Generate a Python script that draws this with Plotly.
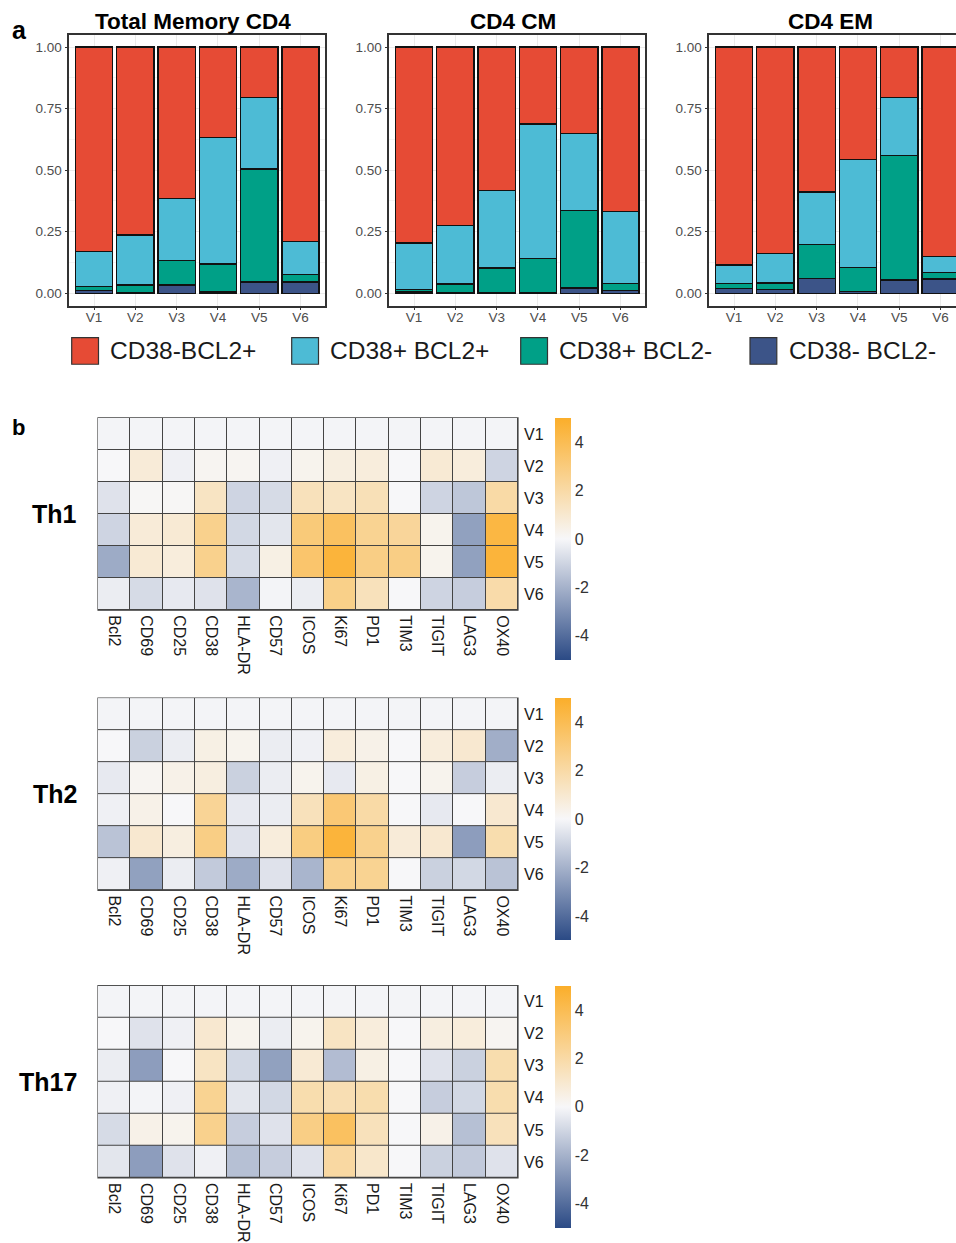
import plotly.graph_objects as go

W, H = 956, 1243
FONT = "Liberation Sans, Arial, sans-serif"


def fx(x):
    return x / W


def fy(y):
    return 1 - y / H


# ---------------- panel a: stacked proportions ----------------
visits = ["V1", "V2", "V3", "V4", "V5", "V6"]
subsets = ["Total Memory CD4", "CD4 CM", "CD4 EM"]
phenotypes = ["CD38- BCL2-", "CD38+ BCL2-", "CD38+ BCL2+", "CD38-BCL2+"]
pheno_colors = ["#3C5488", "#00A087", "#4DBBD5", "#E64B35"]
legend_order = ["CD38-BCL2+", "CD38+ BCL2+", "CD38+ BCL2-", "CD38- BCL2-"]

total_neg_neg = [0.012, 0.003, 0.033, 0.005, 0.046, 0.046]
total_pos_neg = [0.015, 0.031, 0.099, 0.113, 0.459, 0.031]
total_pos_pos = [0.143, 0.202, 0.252, 0.516, 0.290, 0.132]
total_neg_pos = [0.830, 0.764, 0.616, 0.366, 0.205, 0.791]

cm_neg_neg = [0.005, 0.003, 0.002, 0.003, 0.022, 0.011]
cm_pos_neg = [0.011, 0.034, 0.101, 0.137, 0.314, 0.028]
cm_pos_pos = [0.188, 0.238, 0.315, 0.548, 0.313, 0.293]
cm_neg_pos = [0.796, 0.725, 0.582, 0.312, 0.351, 0.668]

em_neg_neg = [0.019, 0.015, 0.061, 0.007, 0.054, 0.057]
em_pos_neg = [0.020, 0.027, 0.136, 0.097, 0.506, 0.027]
em_pos_pos = [0.076, 0.119, 0.215, 0.439, 0.235, 0.065]
em_neg_pos = [0.885, 0.839, 0.588, 0.457, 0.205, 0.851]

subset_series = [
    [total_neg_neg, total_pos_neg, total_pos_pos, total_neg_pos],
    [cm_neg_neg, cm_pos_neg, cm_pos_pos, cm_neg_pos],
    [em_neg_neg, em_pos_neg, em_pos_pos, em_neg_pos],
]

# ---------------- panel b: marker heatmaps ----------------
markers = ["Bcl2", "CD69", "CD25", "CD38", "HLA-DR", "CD57", "ICOS",
           "Ki67", "PD1", "TIM3", "TIGIT", "LAG3", "OX40"]
populations = ["Th1", "Th2", "Th17"]

th1_z = [
    [-0.1, -0.1, -0.1, -0.1, -0.1, -0.1, -0.1, -0.1, -0.1, -0.1, -0.1, -0.1, -0.1],
    [0.0, 0.8, -0.2, 0.2, 0.2, -0.2, 0.3, 0.6, 0.7, 0.0, 0.9, 0.7, -1.0],
    [-0.6, 0.1, 0.1, 1.3, -1.0, -0.8, 1.5, 1.3, 1.6, 0.0, -1.0, -1.4, 2.0],
    [-1.0, 0.8, 0.9, 2.6, -0.9, -0.5, 3.1, 3.7, 2.5, 2.3, 0.3, -2.5, 4.4],
    [-2.2, 0.9, 0.7, 2.6, -0.8, 0.5, 3.4, 4.6, 2.8, 2.8, 0.3, -2.5, 4.6],
    [-0.3, -0.8, -0.4, -0.6, -1.9, -0.1, -0.3, 2.7, 1.5, 0.0, -1.0, -1.2, 1.9],
]
th2_z = [
    [-0.1, -0.1, -0.1, -0.1, -0.1, -0.1, -0.1, -0.1, -0.1, -0.1, -0.1, -0.1, -0.1],
    [0.0, -1.1, -0.3, 0.5, 0.3, -0.3, -0.2, 0.7, 0.4, 0.0, 0.7, 1.0, -2.1],
    [-0.4, 0.2, 0.4, 0.6, -1.1, -0.3, 0.3, -0.4, 0.5, 0.0, 0.3, -1.2, -0.3],
    [-0.2, 0.4, 0.0, 2.4, -0.4, -0.3, 1.5, 3.2, 2.0, 0.0, -0.4, 0.0, 1.0],
    [-1.5, 1.0, 0.6, 2.8, -0.6, 0.7, 2.9, 4.6, 2.6, 0.8, 1.0, -2.6, 1.8],
    [-0.2, -2.5, -0.3, -1.3, -2.2, -0.6, -1.9, 2.6, 2.5, 0.0, -1.1, -0.9, -1.5],
]
th17_z = [
    [-0.1, -0.1, -0.1, -0.1, -0.1, -0.1, -0.1, -0.1, -0.1, -0.1, -0.1, -0.1, -0.1],
    [0.0, -0.6, -0.2, 1.0, 0.3, -0.3, 0.3, 1.3, 0.7, 0.0, 0.6, 0.7, 0.2],
    [-0.3, -2.6, 0.0, 1.3, -0.9, -2.5, 0.9, -1.7, 0.5, 0.0, -0.6, -1.1, 1.8],
    [-0.2, -0.1, -0.2, 2.5, -0.5, -0.9, 1.8, 1.7, 1.8, 0.0, -1.2, -0.9, 1.8],
    [-0.8, 0.4, 0.3, 2.6, -1.2, -0.6, 2.8, 3.7, 1.5, 0.0, 0.4, -1.6, 1.5],
    [-0.5, -2.6, -0.6, -0.2, -1.6, -1.2, -0.6, 2.1, 1.1, 0.0, -1.1, -1.3, -0.6],
]
heat_values = [th1_z, th2_z, th17_z]
colorbar_ticks = [-4, -2, 0, 2, 4]

heat_scale = [[0.0, "#2B4A85"], [0.5, "#F7F7F9"], [1.0, "#FBAE2A"]]

fig = go.Figure()

# stacked bars
for i, series in enumerate(subset_series):
    ax = "" if i == 0 else str(i + 1)
    for name, color, vals in zip(phenotypes, pheno_colors, series):
        fig.add_trace(go.Bar(
            x=visits, y=vals, name=name, width=0.9,
            marker=dict(color=color, line=dict(color="#111111", width=1.4)),
            xaxis="x" + ax, yaxis="y" + ax, showlegend=False,
            hoverinfo="x+y+name",
        ))

# heatmaps
heat_tops = [420, 701.5, 990.5]
cell_h = 32.2
for k, (pop, z, top) in enumerate(zip(populations, heat_values, heat_tops)):
    n = str(k + 4)
    fig.add_trace(go.Heatmap(
        z=z, x=markers, y=visits, xaxis="x" + n, yaxis="y" + n,
        zmin=-5, zmax=5, colorscale=heat_scale, xgap=1, ygap=1,
        colorbar=dict(
            x=fx(555), xanchor="left", xpad=0, ypad=0,
            y=fy(top), yanchor="top", len=241.5, lenmode="pixels",
            thickness=16, outlinewidth=0, ticks="",
            tickvals=colorbar_ticks, ticktext=[str(t) for t in colorbar_ticks],
            tickfont=dict(family=FONT, size=16, color="#333333"),
        ),
    ))

layout = dict(
    width=W, height=H, margin=dict(l=0, r=0, t=0, b=0),
    paper_bgcolor="white", plot_bgcolor="white",
    barmode="stack", bargap=0.1,
    font=dict(family=FONT, color="#1A1A1A"),
)

bar_left = [69.3, 389.3, 709.3]
bar_w = 256
px_per_unit = bar_w / 6.2
bar_dom_y = [fy(307), fy(35)]
for i in range(3):
    ax = "" if i == 0 else str(i + 1)
    left = bar_left[i]
    right = min(left + bar_w, W)
    xr = [-0.6, -0.6 + (right - left) / px_per_unit]
    common = dict(
        showline=True, linecolor="#333333", linewidth=1.5,
        ticks="outside", ticklen=3, tickwidth=1, tickcolor="#333333",
        tickfont=dict(family=FONT, size=13.5, color="#4D4D4D"),
        showgrid=True, gridcolor="#EBEBEB", gridwidth=1, zeroline=False,
        fixedrange=True,
    )
    layout["xaxis" + ax] = dict(
        common, domain=[fx(left), fx(right)], anchor="y" + ax,
        type="category", categoryorder="array", categoryarray=visits,
        range=xr, mirror=True, ticklabelstandoff=-4,
    )
    layout["yaxis" + ax] = dict(
        common, domain=bar_dom_y, anchor="x" + ax,
        range=[-0.05, 1.05], tickvals=[0, 0.25, 0.5, 0.75, 1.0],
        ticktext=["0.00", "0.25", "0.50", "0.75", "1.00"],
        mirror=(i < 2),
        minor=dict(tick0=0.125, dtick=0.25, showgrid=True,
                   gridcolor="#F4F4F4", gridwidth=0.6),
    )

shapes = []
for k, top in enumerate(heat_tops):
    n = str(k + 4)
    bottom = top + 6 * cell_h
    layout["xaxis" + n] = dict(
        domain=[fx(98), fx(518)], anchor="y" + n, type="category",
        tickangle=90, ticks="", showgrid=False, zeroline=False,
        showline=False, ticklabelstandoff=4,
        tickfont=dict(family=FONT, size=16, color="#1A1A1A"),
        fixedrange=True,
    )
    layout["yaxis" + n] = dict(
        domain=[fy(bottom), fy(top)], anchor="x" + n, type="category",
        side="right", autorange="reversed", ticks="", showgrid=False,
        zeroline=False, showline=False, ticklabelstandoff=5,
        tickfont=dict(family=FONT, size=16, color="#1A1A1A"),
        fixedrange=True,
    )
    shapes.append(dict(
        type="rect", xref="x" + n + " domain", yref="y" + n + " domain",
        x0=0, x1=1, y0=0, y1=1, layer="below",
        fillcolor="#444444", line=dict(color="#444444", width=1.2),
    ))

# legend for panel a
annotations = []
box_x = [71.7, 291.7, 520.7, 750.0]
for name, x0 in zip(legend_order, box_x):
    color = pheno_colors[phenotypes.index(name)]
    shapes.append(dict(
        type="rect", xref="paper", yref="paper",
        x0=fx(x0), x1=fx(x0 + 26.8), y0=fy(366), y1=fy(339.2),
        fillcolor=color, line=dict(color="#333333", width=1.2),
    ))
    annotations.append(dict(
        text=name, x=fx(x0 + 36.5), y=fy(352.5), xref="paper", yref="paper",
        xanchor="left", yanchor="middle", showarrow=False,
        font=dict(family=FONT, size=24.5, color="#1A1A1A"),
    ))

# subplot titles
title_x = [193, 513, 830]
for name, cx in zip(subsets, title_x):
    annotations.append(dict(
        text="<b>" + name + "</b>", x=fx(cx), y=fy(22), xref="paper",
        yref="paper", xanchor="center", yanchor="middle", showarrow=False,
        font=dict(family=FONT, size=22.5, color="#000000"),
    ))

# panel letters
annotations.append(dict(text="<b>a</b>", x=fx(10), y=fy(30), xref="paper",
                        yref="paper", xanchor="left", yanchor="middle",
                        showarrow=False,
                        font=dict(family=FONT, size=25, color="#000000")))
annotations.append(dict(text="<b>b</b>", x=fx(10), y=fy(430), xref="paper",
                        yref="paper", xanchor="left", yanchor="middle",
                        showarrow=False,
                        font=dict(family=FONT, size=22, color="#000000")))

# population labels
for pop, top in zip(populations, heat_tops):
    annotations.append(dict(
        text="<b>" + pop + "</b>", x=fx(79), y=fy(top + 3 * cell_h),
        xref="paper", yref="paper", xanchor="right", yanchor="middle",
        showarrow=False, font=dict(family=FONT, size=25, color="#000000"),
    ))

layout["shapes"] = shapes
layout["annotations"] = annotations
fig.update_layout(**layout)

fig.write_html("out.html")
